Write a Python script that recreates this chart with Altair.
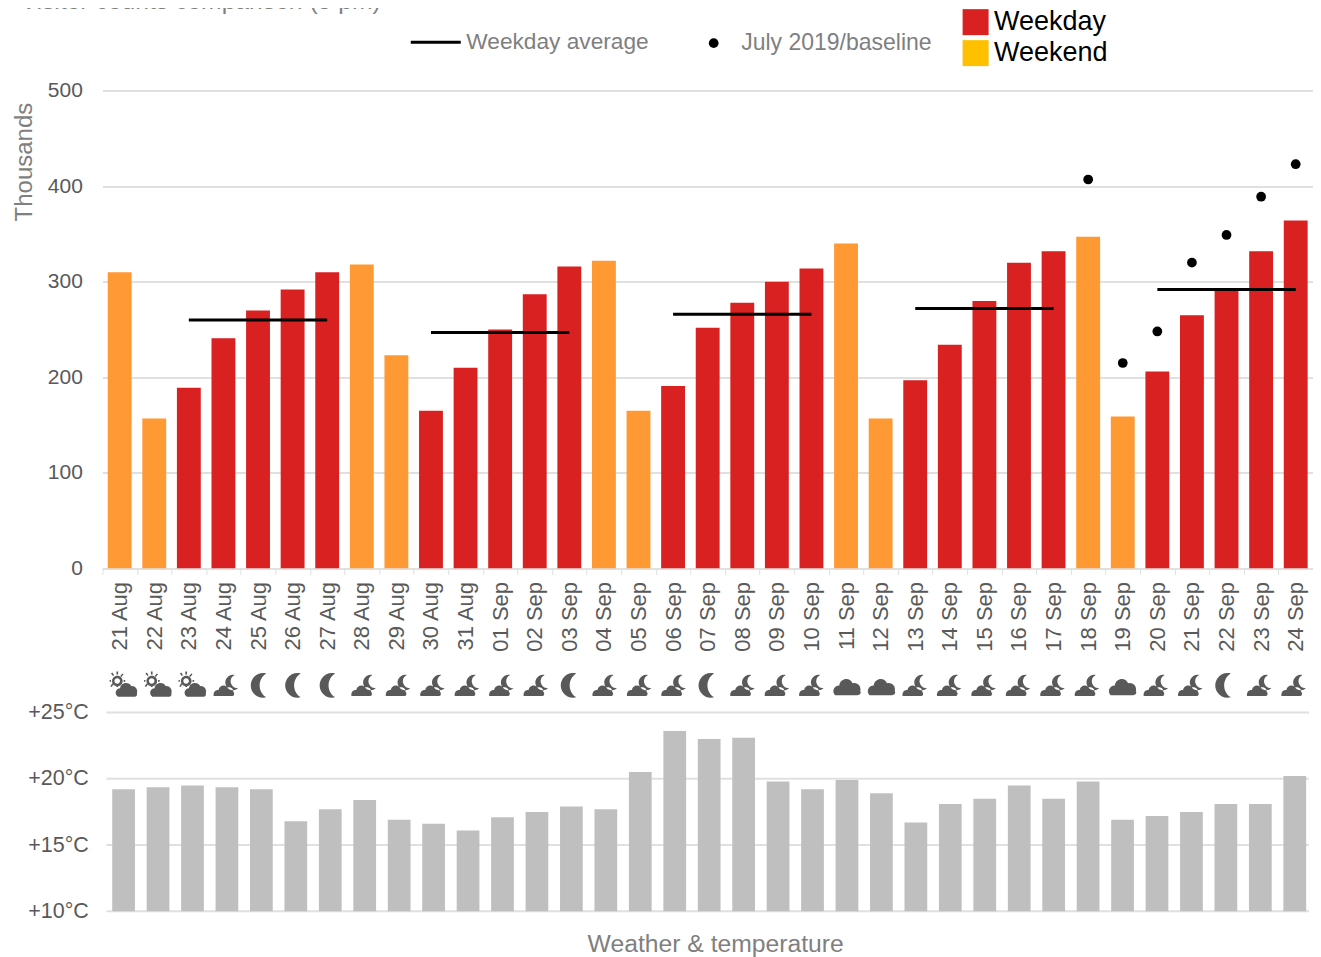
import altair as alt
import pandas as pd

dates = ["21 Aug","22 Aug","23 Aug","24 Aug","25 Aug","26 Aug","27 Aug","28 Aug","29 Aug","30 Aug","31 Aug",
         "01 Sep","02 Sep","03 Sep","04 Sep","05 Sep","06 Sep","07 Sep","08 Sep","09 Sep","10 Sep","11 Sep",
         "12 Sep","13 Sep","14 Sep","15 Sep","16 Sep","17 Sep","18 Sep","19 Sep","20 Sep","21 Sep","22 Sep",
         "23 Sep","24 Sep"]
counts = [310,157,189,241,270,292,310,318,223,165,210,250,287,316,322,165,191,252,278,300,314,340,157,197,
          234,280,320,332,347,159,206,265,293,332,364]
kinds = ["Weekend","Weekend","Weekday","Weekday","Weekday","Weekday","Weekday","Weekend","Weekend","Weekday","Weekday",
         "Weekday","Weekday","Weekday","Weekend","Weekend","Weekday","Weekday","Weekday","Weekday","Weekday","Weekend",
         "Weekend","Weekday","Weekday","Weekday","Weekday","Weekday","Weekend","Weekend","Weekday","Weekday","Weekday",
         "Weekday","Weekday"]
temps = [19.2,19.35,19.5,19.35,19.2,16.8,17.7,18.4,16.9,16.6,16.1,17.1,17.5,17.9,17.7,20.5,23.6,23.0,23.1,19.8,
         19.2,19.9,18.9,16.7,18.1,18.5,19.5,18.5,19.8,16.9,17.2,17.5,18.1,18.1,20.2]
icons = ["sun","sun","sun","cm","moon","moon","moon","cm","cm","cm","cm","cm","cm","moon","cm","cm","cm","moon",
         "cm","cm","cm","cloud","cloud","cm","cm","cm","cm","cm","cm","cloud","cm","cm","moon","cm","cm"]
avg_weeks = [["23 Aug","27 Aug",260],["30 Aug","03 Sep",247],["06 Sep","10 Sep",266],["13 Sep","17 Sep",272],["20 Sep","24 Sep",292]]
base_dates = ["18 Sep","19 Sep","20 Sep","21 Sep","22 Sep","23 Sep","24 Sep"]
base_vals = [407,215,248,320,349,389,423]

RED, ORANGE, YELLOW, GREY, LGREY, GRID = "#D92121", "#FF9933", "#FFC000", "#595959", "#7F7F7F", "#E0E0E0"
FONT = "Liberation Sans"

CLOUD_S = "M-0.95,0.75 C-1,0.45 -0.8,0.3 -0.6,0.32 C-0.55,0.0 -0.15,-0.1 0.02,0.15 C0.25,0.05 0.5,0.25 0.45,0.45 C0.55,0.5 0.55,0.75 0.4,0.75 Z"
MOON_S = "M0.55,-0.75 A0.55,0.55 0 1 0 0.8,0.2 A0.5,0.5 0 0 1 0.55,-0.75 Z"
MOON = "M0.35,-0.85 A0.88,0.88 0 1 0 0.35,0.85 A1.0,1.0 0 0 1 0.35,-0.85 Z"
CLOUD = "M-0.85,0.7 C-1.1,0.45 -0.95,0.0 -0.55,0.0 C-0.5,-0.5 0.2,-0.65 0.4,-0.15 C0.75,-0.25 1.05,0.1 0.95,0.4 C1.05,0.55 0.9,0.7 0.75,0.7 Z"
SUNC = "M-0.4,0.8 C-0.7,0.6 -0.55,0.2 -0.25,0.2 C-0.2,-0.25 0.4,-0.3 0.55,0.05 C0.85,0.0 1.05,0.35 0.95,0.55 C1.0,0.7 0.9,0.8 0.8,0.8 Z"
SUNR = ("M-0.45,-0.7 A0.38,0.38 0 1 0 -0.44,-0.7 Z M-0.45,-0.52 A0.2,0.2 0 1 1 -0.46,-0.52 Z "
        "M-0.51,-1.0 L-0.39,-1.0 L-0.39,-0.78 L-0.51,-0.78 Z M-0.51,0.12 L-0.39,0.12 L-0.39,-0.1 L-0.51,-0.1 Z "
        "M-1.0,-0.38 L-1.0,-0.26 L-0.9,-0.26 L-0.9,-0.38 Z M0.0,-0.38 L0.0,-0.26 L0.12,-0.26 L0.12,-0.38 Z "
        "M-0.9,-0.86 L-0.8,-0.93 L-0.68,-0.73 L-0.76,-0.67 Z M-0.95,0.05 L-0.85,0.12 L-0.72,-0.08 L-0.8,-0.15 Z "
        "M-0.08,-0.86 L0.0,-0.8 L-0.16,-0.6 L-0.24,-0.67 Z")
ICON_DOMAIN = ["sun", "cm", "moon", "cloud"]
ICON_RANGE = [SUNC + " " + SUNR, CLOUD_S + " " + MOON_S, MOON, CLOUD]

df = pd.DataFrame({"date": dates, "count": counts, "kind": kinds, "temp": temps, "icon": icons})
avg_rows = []
for start, end, v in avg_weeks:
    avg_rows += [{"date": start, "avg": v, "week": start, "series": "Weekday average"},
                 {"date": end, "avg": v, "week": start, "series": "Weekday average"}]
avg_df = pd.DataFrame(avg_rows)
base_df = pd.DataFrame({"date": base_dates, "val": base_vals, "series": "July 2019/baseline"})
grid_df = pd.DataFrame({"t": [10, 15, 20, 25]})
title_df = pd.DataFrame({"t": ["Visitor counts comparison (5 pm)"]})

W, H1, H2 = 1207, 478, 199
x_top = alt.Scale(type="band", domain=dates, range=[0, 1211], paddingInner=0.31, paddingOuter=0.155)
x_low = alt.Scale(type="band", domain=dates, range=[4, 1210], paddingInner=0.34, paddingOuter=0.17)
y_top = alt.Scale(domain=[0, 500], nice=False)
y_low = alt.Scale(domain=[10, 25], nice=False)

x_axis = alt.Axis(title=None, labelAngle=270, labelFontSize=22, labelColor=GREY, labelFont=FONT, labelPadding=7,
                  labelAlign="right", labelBaseline="middle", tickOffset=-17.3, labelOffset=17.3, tickColor=GRID, tickSize=6,
                  domain=False, grid=False, labelOverlap=False)

bars = alt.Chart(df).mark_bar(clip=True).encode(
    x=alt.X("date:N", scale=x_top, axis=x_axis, sort=None),
    y=alt.Y("count:Q", scale=y_top, axis=alt.Axis(
        title="Thousands", values=[0, 100, 200, 300, 400, 500], labelFontSize=21, labelColor=GREY, labelFont=FONT,
        labelPadding=20, ticks=False, domain=False, gridColor=GRID, gridWidth=2,
        titleFontSize=24, titleColor=LGREY, titleFont=FONT, titleFontWeight="normal",
        titleX=-66, titleY=71, titleAnchor="middle")),
    color=alt.condition("datum.kind == 'Weekend'", alt.value(ORANGE), alt.value(RED)),
)
key = alt.Chart(df).transform_filter("false").mark_bar().encode(
    x=alt.X("date:N", scale=x_top, sort=None),
    fill=alt.Fill("kind:N", scale=alt.Scale(domain=["Weekday", "Weekend"], range=[RED, YELLOW]),
                  legend=alt.Legend(title=None, orient="none", legendX=860, legendY=-82, symbolType="square",
                                    symbolSize=676, symbolStrokeWidth=0, labelFontSize=27, labelColor="#000000",
                                    labelFont=FONT, rowPadding=3, labelOffset=5, labelLimit=300)),
)
lines = alt.Chart(avg_df).mark_line(strokeWidth=3).encode(
    x=alt.X("date:N", scale=x_top, sort=None),
    y=alt.Y("avg:Q", scale=y_top),
    detail="week:N",
    stroke=alt.Stroke("series:N", scale=alt.Scale(domain=["Weekday average"], range=["#000000"]),
                      legend=alt.Legend(title=None, orient="none", legendX=307, legendY=-75, symbolType="stroke",
                                        symbolSize=2500, symbolStrokeWidth=3, labelFontSize=22.7, labelColor=LGREY,
                                        labelFont=FONT, labelOffset=4, labelLimit=300)),
)
points = alt.Chart(base_df).mark_point(filled=True, size=95, color="#000000", opacity=1).encode(
    x=alt.X("date:N", scale=x_top, sort=None),
    y=alt.Y("val:Q", scale=y_top),
    shape=alt.Shape("series:N", scale=alt.Scale(domain=["July 2019/baseline"], range=["circle"]),
                    legend=alt.Legend(title=None, orient="none", legendX=600, legendY=-59, symbolSize=95,
                                      symbolFillColor="#000000", symbolStrokeWidth=0, labelFontSize=23,
                                      labelColor=LGREY, labelFont=FONT, labelOffset=16, labelLimit=300)),
)
title_txt = alt.Chart(title_df).mark_text(align="left", baseline="alphabetic", fontSize=24.7, font=FONT, color=LGREY).encode(
    x=alt.value(-82), y=alt.value(-82), text="t:N")
top = alt.layer(bars, key, lines, points, title_txt).properties(width=W, height=H1)

grid = alt.Chart(grid_df).mark_rule(color=GRID, strokeWidth=2).encode(
    x=alt.value(4), x2=alt.value(W), y=alt.Y("t:Q", scale=y_low))
lbars = alt.Chart(df).mark_bar(color="#BFBFBF", clip=True).encode(
    x=alt.X("date:N", scale=x_low, sort=None, axis=alt.Axis(
        labels=False, ticks=False, domain=False, title="Weather & temperature", titleFontSize=24.7, titleColor=LGREY,
        titleFont=FONT, titleFontWeight="normal", titleX=613, titleY=33, titleBaseline="middle", titleAnchor="middle", grid=False)),
    y=alt.Y("temp:Q", scale=y_low, axis=alt.Axis(
        title=None, values=[10, 15, 20, 25], labelExpr="'+' + datum.value + '°C'", labelFontSize=21.5, labelColor=GREY,
        labelFont=FONT, labelPadding=14, ticks=False, domain=False, grid=False)),
)
icon_marks = alt.Chart(df).mark_point(filled=True, size=784, color=GREY, opacity=1, strokeWidth=0).encode(
    x=alt.X("date:N", scale=x_low, sort=None),
    y=alt.value(-27),
    shape=alt.Shape("icon:N", scale=alt.Scale(domain=ICON_DOMAIN, range=ICON_RANGE), legend=None),
)
low = alt.layer(grid, lbars, icon_marks).properties(width=W, height=H2)

chart = alt.vconcat(top, low, spacing=144, bounds="flush").resolve_scale(shape="independent").properties(
    padding={"left": 4.4, "top": -19.5, "right": 0, "bottom": 12}, background="#FFFFFF"
).configure_view(stroke=None).configure_axisX(grid=False)
chart.save("out.html", embed_options={"renderer": "svg", "actions": False})
